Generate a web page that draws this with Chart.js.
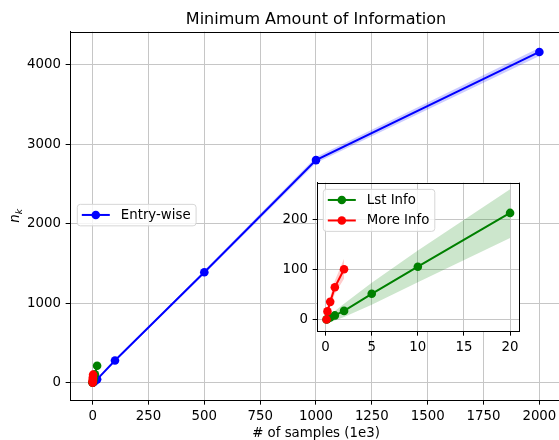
<!DOCTYPE html>
<html><head><meta charset="utf-8">
<script src="https://cdn.jsdelivr.net/npm/chart.js@4"></script>
<style>
html,body{margin:0;padding:0;background:#fff;overflow:hidden;}
#wrap{position:relative;width:559px;height:440px;overflow:hidden;background:#fff;}
#main{position:absolute;left:0;top:0;}
#inset{position:absolute;left:270px;top:170px;}
</style></head><body>
<div id="wrap"><canvas id="main" width="566" height="440"></canvas><canvas id="inset" width="260" height="195"></canvas></div>
<script>
// ---- text ----
const titleText = 'Minimum Amount of Information';
const xLabel = '# of samples (1e3)';
const yLabelMain = 'n';
const yLabelSub = 'k';
const seriesNames = ['Entry-wise', 'Lst Info', 'More Info'];

// ---- data ----
const entryX  = [1, 2, 5, 10, 20, 100, 500, 1000, 2000];
const entryY  = [2, 4, 10, 21, 42, 280, 1390, 2800, 4160];
const entryLo = [1, 3, 8, 18, 38, 268, 1368, 2762, 4108];
const entryHi = [3, 5, 12, 24, 46, 292, 1412, 2838, 4212];

const lstX  = [0.1, 0.2, 0.5, 1, 2, 5, 10, 20];
const lstY  = [1, 2, 5, 9, 18, 52, 106, 213];
const lstLo = [-9, -7, -4, -1, 6, 30, 75, 163];
const lstHi = [8, 10, 13, 18, 32, 74, 138, 260];

const moreX  = [0.1, 0.2, 0.5, 1, 2];
const moreY  = [1, 17, 36, 65, 101];
const moreLo = [-4, 8, 26, 52, 82];
const moreHi = [6, 26, 46, 78, 122];

const mainXTicks  = [0, 250, 500, 750, 1000, 1250, 1500, 1750, 2000];
const mainYTicks  = [0, 1000, 2000, 3000, 4000];
const insetXTicks = [0, 5, 10, 15, 20];
const insetYTicks = [0, 100, 200];

// ---- helpers ----
const FONT = '"DejaVu Sans", sans-serif';
const pts = (xs, ys) => xs.map((x, i) => ({x: x, y: ys[i]}));
const BLUE = '#0000ff', GREEN = '#008000', RED = '#ff0000';

function band(xs, lo, hi, fillColor, order) {
  return [
    {data: pts(xs, lo), borderWidth: 0, borderColor: 'rgba(0,0,0,0)', pointRadius: 0, fill: false, order: order, isBand: true},
    {data: pts(xs, hi), borderWidth: 0, borderColor: 'rgba(0,0,0,0)', pointRadius: 0, fill: '-1', backgroundColor: fillColor, order: order, isBand: true}
  ];
}
function line(label, xs, ys, color, order) {
  return {label: label, data: pts(xs, ys), borderColor: color, backgroundColor: color,
    pointBackgroundColor: color, pointBorderColor: color, pointBorderWidth: 0,
    pointRadius: 4.3, borderWidth: 2, fill: false, order: order, tension: 0, legend: true};
}

function drawLegend(ctx, left, top, items) {
  ctx.save();
  ctx.font = '13.33px ' + FONT;
  let tw = 0;
  items.forEach(it => { tw = Math.max(tw, ctx.measureText(it.label).width); });
  const w = 4.5 + 28 + 11 + tw + 5.5;
  const h = 21.5 + (items.length - 1) * 20.5;
  const r = 3;
  ctx.beginPath();
  ctx.moveTo(left + r, top);
  ctx.lineTo(left + w - r, top); ctx.quadraticCurveTo(left + w, top, left + w, top + r);
  ctx.lineTo(left + w, top + h - r); ctx.quadraticCurveTo(left + w, top + h, left + w - r, top + h);
  ctx.lineTo(left + r, top + h); ctx.quadraticCurveTo(left, top + h, left, top + h - r);
  ctx.lineTo(left, top + r); ctx.quadraticCurveTo(left, top, left + r, top);
  ctx.closePath();
  ctx.fillStyle = 'rgba(255,255,255,0.8)';
  ctx.fill();
  ctx.strokeStyle = '#d6d6d6';
  ctx.lineWidth = 1;
  ctx.stroke();
  items.forEach((it, i) => {
    const cy = top + 10.6 + i * 20.5;
    const x0 = left + 4.5, x1 = x0 + 28;
    ctx.strokeStyle = it.color; ctx.lineWidth = 2;
    ctx.beginPath(); ctx.moveTo(x0, cy); ctx.lineTo(x1, cy); ctx.stroke();
    ctx.fillStyle = it.color;
    ctx.beginPath(); ctx.arc((x0 + x1) / 2, cy, 4.3, 0, Math.PI * 2); ctx.fill();
    ctx.fillStyle = '#000';
    ctx.textBaseline = 'middle'; ctx.textAlign = 'left';
    ctx.fillText(it.label, x1 + 11, cy + 0.5);
  });
  ctx.restore();
}
function legendItems(chart) {
  return chart.data.datasets.filter(d => d.legend).map(d => ({label: d.label, color: d.borderColor}));
}
function frame(ctx, a, sides) {
  ctx.save();
  ctx.strokeStyle = '#000'; ctx.lineWidth = 1;
  ctx.beginPath();
  if (sides.top) { ctx.moveTo(a.left, Math.round(a.top) + 0.5); ctx.lineTo(a.right, Math.round(a.top) + 0.5); }
  if (sides.right) { ctx.moveTo(Math.round(a.right) + 0.5, a.top); ctx.lineTo(Math.round(a.right) + 0.5, a.bottom); }
  ctx.stroke();
  ctx.restore();
}

function axisCfg(min, max, ticks, fitProp, fitVal, pad) {
  const c = {
    type: 'linear', min: min, max: max,
    afterBuildTicks: s => { s.ticks = ticks.map(v => ({value: v})); },
    afterFit: s => { s[fitProp] = fitVal; },
    grid: {color: '#c6c6c6', lineWidth: 1, tickLength: 4.67, tickColor: '#000', tickWidth: 1},
    border: {display: true, color: '#000', width: 1},
    ticks: {padding: pad, color: '#000', font: {family: FONT, size: 13.33}, maxRotation: 0, autoSkip: false,
      callback: v => String(v)}
  };
  return c;
}

// ---- main chart ----
const mainDatasets = [].concat(
  band(entryX, entryLo, entryHi, 'rgba(0,0,255,0.2)', 10),
  band(lstX, lstLo, lstHi, 'rgba(0,128,0,0.2)', 9),
  band(moreX, moreLo, moreHi, 'rgba(255,0,0,0.2)', 8),
  [line(seriesNames[0], entryX, entryY, BLUE, 3),
   line(seriesNames[1], lstX, lstY, GREEN, 2),
   line(seriesNames[2], moreX, moreY, RED, 1)]
);
mainDatasets[mainDatasets.length - 2].legend = false;
mainDatasets[mainDatasets.length - 1].legend = false;

const mainPlugin = {
  id: 'mainDeco',
  afterDatasetsDraw(chart) { frame(chart.ctx, chart.chartArea, {top: true, right: true}); },
  afterDraw(chart) {
    const ctx = chart.ctx, a = chart.chartArea;
    const cx = (a.left + a.right) / 2;
    ctx.save();
    ctx.fillStyle = '#000';
    ctx.textAlign = 'center'; ctx.textBaseline = 'alphabetic';
    ctx.font = '16px ' + FONT;
    ctx.fillText(titleText, cx, a.top - 8);
    ctx.font = '13.33px ' + FONT;
    ctx.fillText(xLabel, cx, 437);
    // y label n_k rotated
    ctx.translate(21, (a.top + a.bottom) / 2);
    ctx.rotate(-Math.PI / 2);
    ctx.font = 'italic 13.33px ' + FONT;
    const nW = ctx.measureText(yLabelMain).width;
    ctx.font = 'italic 9.3px ' + FONT;
    const kW = ctx.measureText(yLabelSub).width;
    const start = -(nW + kW) / 2;
    ctx.textAlign = 'left';
    ctx.font = 'italic 13.33px ' + FONT;
    ctx.fillText(yLabelMain, start, -2);
    ctx.font = 'italic 9.3px ' + FONT;
    ctx.fillText(yLabelSub, start + nW, 1);
    ctx.restore();
    drawLegend(ctx, a.left + 7, (a.top + a.bottom) / 2 - 11.5, legendItems(chart));
  }
};

new Chart(document.getElementById('main'), {
  type: 'line',
  data: {datasets: mainDatasets},
  options: {
    responsive: false, animation: false, devicePixelRatio: 1,
    layout: {padding: {left: 0, right: 3.5, top: 31.7, bottom: 0}},
    plugins: {legend: {display: false}, tooltip: {enabled: false}, title: {display: false}},
    scales: {
      x: axisCfg(-100, 2100, mainXTicks, 'height', 40, 4),
      y: axisCfg(-217.6, 4415, mainYTicks, 'width', 70.3, 4.67)
    }
  },
  plugins: [mainPlugin]
});

// ---- inset chart ----
const insetDatasets = [].concat(
  band(lstX, lstLo, lstHi, 'rgba(0,128,0,0.2)', 9),
  band(moreX, moreLo, moreHi, 'rgba(255,0,0,0.2)', 8),
  [line(seriesNames[1], lstX, lstY, GREEN, 2),
   line(seriesNames[2], moreX, moreY, RED, 1)]
);
const insetPlugin = {
  id: 'insetDeco',
  beforeDraw(chart) {
    const ctx = chart.ctx, a = chart.chartArea;
    ctx.save(); ctx.fillStyle = '#fff';
    ctx.fillRect(a.left, a.top, a.right - a.left, a.bottom - a.top);
    ctx.restore();
  },
  afterDatasetsDraw(chart) { frame(chart.ctx, chart.chartArea, {top: true, right: true}); },
  afterDraw(chart) {
    const a = chart.chartArea;
    drawLegend(chart.ctx, a.left + 6, a.top + 6.7, legendItems(chart));
  }
};
new Chart(document.getElementById('inset'), {
  type: 'line',
  data: {datasets: insetDatasets},
  options: {
    responsive: false, animation: false, devicePixelRatio: 1,
    layout: {padding: {left: 0, right: 10.7, top: 9, bottom: 0}},
    plugins: {legend: {display: false}, tooltip: {enabled: false}, title: {display: false}},
    scales: {
      x: axisCfg(-0.9, 21.0, insetXTicks, 'height', 34, 4),
      y: axisCfg(-22, 273.2, insetYTicks, 'width', 47.3, 4.67)
    }
  },
  plugins: [insetPlugin]
});
</script>
</body></html>
